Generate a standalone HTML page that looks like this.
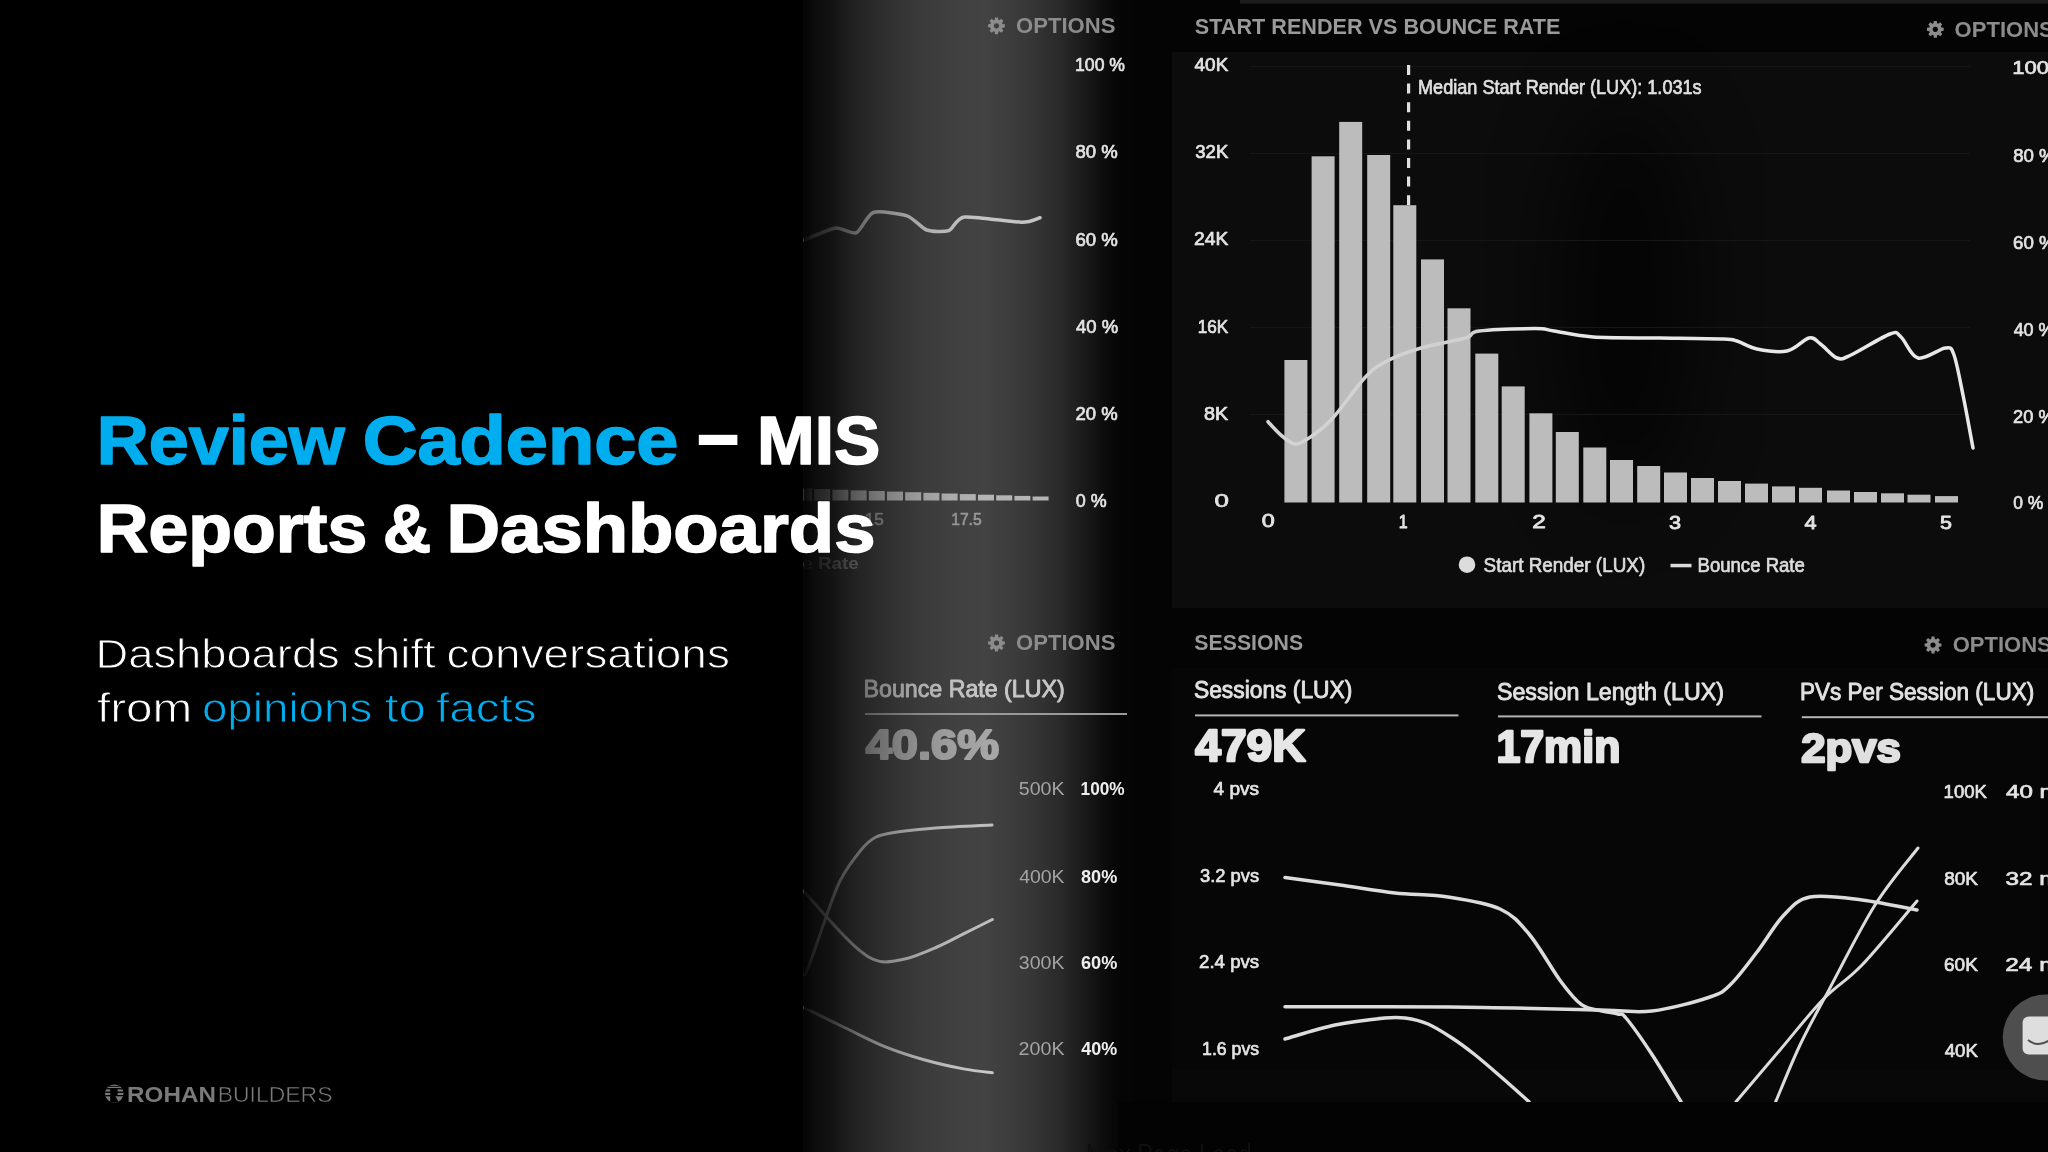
<!DOCTYPE html>
<html><head><meta charset="utf-8"><title>Review Cadence – MIS Reports &amp; Dashboards</title>
<style>
html,body{margin:0;padding:0;background:#000;}
body{width:2048px;height:1152px;overflow:hidden;position:relative;font-family:"Liberation Sans",sans-serif;}
svg{position:absolute;left:0;top:0;display:block;will-change:transform;}
.lb{font-family:"Liberation Sans",sans-serif;font-weight:700;}
.lr{font-family:"Liberation Sans",sans-serif;font-weight:400;}
</style></head>
<body>
<svg width="2048" height="1152" viewBox="0 0 2048 1152">
<defs>
  <linearGradient id="lp" x1="803.5" y1="0" x2="1133.5" y2="0" gradientUnits="userSpaceOnUse">
    <stop offset="0" stop-color="#424242"/>
    <stop offset="0.545" stop-color="#434343"/>
    <stop offset="0.676" stop-color="#383838"/>
    <stop offset="0.776" stop-color="#2a2a2a"/>
    <stop offset="0.873" stop-color="#151515"/>
    <stop offset="0.936" stop-color="#080808"/>
    <stop offset="0.97" stop-color="#050505"/>
    <stop offset="1" stop-color="#050505"/>
  </linearGradient>
  <linearGradient id="topv" x1="0" y1="0" x2="0" y2="60" gradientUnits="userSpaceOnUse">
    <stop offset="0" stop-color="#000" stop-opacity="0.35"/>
    <stop offset="1" stop-color="#000" stop-opacity="0"/>
  </linearGradient>
  <linearGradient id="fade" x1="798" y1="0" x2="1038" y2="0" gradientUnits="userSpaceOnUse">
    <stop offset="0.0000" stop-color="#000" stop-opacity="1"/>
    <stop offset="0.0221" stop-color="#000" stop-opacity="1"/>
    <stop offset="0.0233" stop-color="#000" stop-opacity="0.94"/>
    <stop offset="0.0417" stop-color="#000" stop-opacity="0.9"/>
    <stop offset="0.0583" stop-color="#000" stop-opacity="0.83"/>
    <stop offset="0.0917" stop-color="#000" stop-opacity="0.79"/>
    <stop offset="0.1333" stop-color="#000" stop-opacity="0.73"/>
    <stop offset="0.1750" stop-color="#000" stop-opacity="0.63"/>
    <stop offset="0.2375" stop-color="#000" stop-opacity="0.49"/>
    <stop offset="0.3208" stop-color="#000" stop-opacity="0.36"/>
    <stop offset="0.4250" stop-color="#000" stop-opacity="0.22"/>
    <stop offset="0.5083" stop-color="#000" stop-opacity="0.13"/>
    <stop offset="0.6333" stop-color="#000" stop-opacity="0.05"/>
    <stop offset="0.7792" stop-color="#000" stop-opacity="0"/>
    <stop offset="1.0000" stop-color="#000" stop-opacity="0"/>
  </linearGradient>
  <linearGradient id="bl" x1="1260" y1="0" x2="1980" y2="0" gradientUnits="userSpaceOnUse">
    <stop offset="0" stop-color="#d4d4d4"/>
    <stop offset="0.3" stop-color="#d0d0d0"/>
    <stop offset="0.33" stop-color="#e6e6e6"/>
    <stop offset="1" stop-color="#e8e8e8"/>
  </linearGradient>
  <filter id="soft" x="0" y="0" width="2048" height="1152" filterUnits="userSpaceOnUse"><feGaussianBlur stdDeviation="0.55"/></filter>
  <filter id="blur30" x="-50%" y="-50%" width="200%" height="200%"><feGaussianBlur stdDeviation="40"/></filter>
  <clipPath id="photoclip"><rect x="803.5" y="0" width="1245" height="1152"/></clipPath>
</defs>
<g clip-path="url(#photoclip)">
<rect x="0" y="0" width="2048" height="1152" fill="#000"/>
<rect x="1118" y="0" width="930" height="1152" fill="#040404"/>
<rect x="1172" y="52" width="876" height="556" fill="#0c0c0c"/>
<rect x="1172" y="668" width="876" height="434" fill="#060606"/>
<rect x="1172" y="1070" width="876" height="32" fill="#0a0a0a" opacity="0.6"/>
<ellipse cx="1625" cy="300" rx="70" ry="200" fill="#000" opacity="0.6" filter="url(#blur30)"/>
<rect x="1240" y="0" width="808" height="3.5" fill="#1c1c1c"/>
<rect x="803.5" y="0" width="330" height="1152" fill="url(#lp)"/>
<path d="M1002.52,23.94 L1004.88,24.36 L1004.88,27.24 L1002.52,27.66 L1002.07,28.74 L1003.44,30.71 L1001.41,32.74 L999.44,31.37 L998.36,31.82 L997.94,34.18 L995.06,34.18 L994.64,31.82 L993.56,31.37 L991.59,32.74 L989.56,30.71 L990.93,28.74 L990.48,27.66 L988.12,27.24 L988.12,24.36 L990.48,23.94 L990.93,22.86 L989.56,20.89 L991.59,18.86 L993.56,20.23 L994.64,19.78 L995.06,17.42 L997.94,17.42 L998.36,19.78 L999.44,20.23 L1001.41,18.86 L1003.44,20.89 L1002.07,22.86Z M999.10,25.80 A2.6,2.6 0 1,0 993.90,25.80 A2.6,2.6 0 1,0 999.10,25.80Z" fill="#8c8c8c" fill-rule="evenodd"/>
<text class="lb" x="1016.12" y="33.00" font-size="21.74" textLength="99.27" lengthAdjust="spacingAndGlyphs" fill="#8c8c8c" >OPTIONS</text>
<text class="lr" x="1075.08" y="70.80" font-size="18.84" textLength="49.84" lengthAdjust="spacingAndGlyphs" fill="#e4e4e4" stroke="#e4e4e4" stroke-width="0.7" stroke-linejoin="round" >100 %</text>
<text class="lr" x="1075.57" y="158.00" font-size="18.84" textLength="42.27" lengthAdjust="spacingAndGlyphs" fill="#e4e4e4" stroke="#e4e4e4" stroke-width="0.7" stroke-linejoin="round" >80 %</text>
<text class="lr" x="1075.47" y="245.60" font-size="18.84" textLength="42.37" lengthAdjust="spacingAndGlyphs" fill="#e4e4e4" stroke="#e4e4e4" stroke-width="0.7" stroke-linejoin="round" >60 %</text>
<text class="lr" x="1076.03" y="333.00" font-size="18.84" textLength="42.10" lengthAdjust="spacingAndGlyphs" fill="#e4e4e4" stroke="#e4e4e4" stroke-width="0.7" stroke-linejoin="round" >40 %</text>
<text class="lr" x="1075.48" y="419.80" font-size="18.84" textLength="42.16" lengthAdjust="spacingAndGlyphs" fill="#e4e4e4" stroke="#e4e4e4" stroke-width="0.7" stroke-linejoin="round" >20 %</text>
<text class="lr" x="1075.68" y="506.50" font-size="18.84" textLength="30.91" lengthAdjust="spacingAndGlyphs" fill="#e4e4e4" stroke="#e4e4e4" stroke-width="0.7" stroke-linejoin="round" >0 %</text>
<path d="M790.0,245.0 C792.1,244.2 802.7,240.5 808.0,238.5 C813.3,236.5 830.0,228.7 835.6,228.0 C841.2,227.3 852.0,234.5 856.4,232.7 C860.8,230.9 867.4,214.5 873.3,212.5 C879.2,210.5 900.8,213.8 907.0,215.8 C913.2,217.8 921.8,228.3 926.7,230.0 C931.6,231.7 944.4,232.2 948.8,230.7 C953.2,229.2 956.0,218.0 964.5,217.0 C973.0,216.0 1013.0,222.2 1021.8,222.3 C1030.6,222.4 1037.9,218.2 1040.0,217.7" fill="none" stroke="#c4c4c4" stroke-width="3.5" stroke-linecap="round" stroke-linejoin="round" />
<rect x="796.0" y="488.5" width="16" height="12.0" fill="#b4b4b4"/>
<rect x="814.2" y="489.1" width="16" height="11.4" fill="#b4b4b4"/>
<rect x="832.4" y="489.7" width="16" height="10.8" fill="#b4b4b4"/>
<rect x="850.6" y="490.4" width="16" height="10.1" fill="#b4b4b4"/>
<rect x="868.8" y="491.0" width="16" height="9.5" fill="#b4b4b4"/>
<rect x="887.0" y="491.6" width="16" height="8.9" fill="#b4b4b4"/>
<rect x="905.2" y="492.2" width="16" height="8.3" fill="#b4b4b4"/>
<rect x="923.4" y="492.8" width="16" height="7.7" fill="#b4b4b4"/>
<rect x="941.6" y="493.5" width="16" height="7.0" fill="#b4b4b4"/>
<rect x="959.8" y="494.1" width="16" height="6.4" fill="#b4b4b4"/>
<rect x="978.0" y="494.7" width="16" height="5.8" fill="#b4b4b4"/>
<rect x="996.2" y="495.3" width="16" height="5.2" fill="#b4b4b4"/>
<rect x="1014.4" y="495.9" width="16" height="4.6" fill="#b4b4b4"/>
<rect x="1032.6" y="496.5" width="16" height="4.0" fill="#b4b4b4"/>
<text class="lr" x="864.72" y="525.00" font-size="17.39" textLength="19.00" lengthAdjust="spacingAndGlyphs" fill="#9a9a9a" stroke="#9a9a9a" stroke-width="0.7" stroke-linejoin="round" >15</text>
<text class="lr" x="951.23" y="525.00" font-size="17.39" textLength="30.42" lengthAdjust="spacingAndGlyphs" fill="#9a9a9a" stroke="#9a9a9a" stroke-width="0.7" stroke-linejoin="round" >17.5</text>
<text class="lb" x="743.78" y="568.50" font-size="16.67" textLength="114.93" lengthAdjust="spacingAndGlyphs" fill="#9a9a9a" >Bounce Rate</text>
<path d="M1002.52,641.14 L1004.88,641.56 L1004.88,644.44 L1002.52,644.86 L1002.07,645.94 L1003.44,647.91 L1001.41,649.94 L999.44,648.57 L998.36,649.02 L997.94,651.38 L995.06,651.38 L994.64,649.02 L993.56,648.57 L991.59,649.94 L989.56,647.91 L990.93,645.94 L990.48,644.86 L988.12,644.44 L988.12,641.56 L990.48,641.14 L990.93,640.06 L989.56,638.09 L991.59,636.06 L993.56,637.43 L994.64,636.98 L995.06,634.62 L997.94,634.62 L998.36,636.98 L999.44,637.43 L1001.41,636.06 L1003.44,638.09 L1002.07,640.06Z M999.10,643.00 A2.6,2.6 0 1,0 993.90,643.00 A2.6,2.6 0 1,0 999.10,643.00Z" fill="#8c8c8c" fill-rule="evenodd"/>
<text class="lb" x="1016.12" y="649.50" font-size="21.74" textLength="99.27" lengthAdjust="spacingAndGlyphs" fill="#8c8c8c" >OPTIONS</text>
<text class="lr" x="863.54" y="697.00" font-size="23.19" textLength="201.18" lengthAdjust="spacingAndGlyphs" fill="#c8c8c8" stroke="#c8c8c8" stroke-width="0.9" stroke-linejoin="round" >Bounce Rate (LUX)</text>
<rect x="865" y="713" width="262" height="2" fill="#9a9a9a"/>
<text class="lb" x="865.69" y="759.00" font-size="42.03" textLength="133.30" lengthAdjust="spacingAndGlyphs" fill="#a6a6a6" stroke="#a6a6a6" stroke-width="2.2" stroke-linejoin="round" >40.6%</text>
<text class="lr" x="1018.82" y="795.30" font-size="18.84" textLength="45.79" lengthAdjust="spacingAndGlyphs" fill="#a4a4a4" >500K</text>
<text class="lb" x="1080.56" y="795.30" font-size="18.84" textLength="44.13" lengthAdjust="spacingAndGlyphs" fill="#eeeeee" >100%</text>
<text class="lr" x="1019.21" y="882.60" font-size="18.84" textLength="45.39" lengthAdjust="spacingAndGlyphs" fill="#a4a4a4" >400K</text>
<text class="lb" x="1081.06" y="882.60" font-size="18.84" textLength="36.22" lengthAdjust="spacingAndGlyphs" fill="#eeeeee" >80%</text>
<text class="lr" x="1018.82" y="969.30" font-size="18.84" textLength="45.79" lengthAdjust="spacingAndGlyphs" fill="#a4a4a4" >300K</text>
<text class="lb" x="1080.96" y="969.30" font-size="18.84" textLength="36.32" lengthAdjust="spacingAndGlyphs" fill="#eeeeee" >60%</text>
<text class="lr" x="1018.62" y="1054.50" font-size="18.84" textLength="45.99" lengthAdjust="spacingAndGlyphs" fill="#a4a4a4" >200K</text>
<text class="lb" x="1081.33" y="1054.50" font-size="18.84" textLength="35.95" lengthAdjust="spacingAndGlyphs" fill="#eeeeee" >40%</text>
<path d="M805.0,975.0 C806.0,972.5 807.8,968.7 811.0,960.0 C814.2,951.3 819.2,936.2 824.0,923.0 C828.8,909.8 833.8,893.2 840.0,881.0 C846.2,868.8 855.0,857.3 861.0,850.0 C867.0,842.7 870.0,840.0 876.0,837.0 C882.0,834.0 887.0,833.5 897.0,832.0 C907.0,830.5 920.2,829.2 936.0,828.0 C951.8,826.8 982.7,825.5 992.0,825.0" fill="none" stroke="#c0c0c0" stroke-width="3" stroke-linecap="round" stroke-linejoin="round" />
<path d="M800.0,888.0 C801.5,889.5 803.4,891.1 808.8,897.0 C814.2,902.9 824.1,914.6 832.4,923.4 C840.7,932.2 850.7,943.3 858.6,949.6 C866.5,955.9 871.7,959.9 879.6,961.4 C887.5,962.9 896.2,961.2 905.8,958.8 C915.4,956.4 927.4,951.1 937.0,947.0 C946.6,942.9 954.3,938.5 963.5,933.9 C972.7,929.3 987.5,921.9 992.3,919.5" fill="none" stroke="#c0c0c0" stroke-width="3" stroke-linecap="round" stroke-linejoin="round" />
<path d="M800.0,1006.0 C801.5,1006.7 801.2,1006.3 808.8,1010.0 C816.4,1013.7 832.8,1021.9 845.5,1028.0 C858.2,1034.1 871.7,1041.3 884.8,1046.6 C897.9,1051.9 910.9,1056.0 924.0,1059.7 C937.1,1063.4 952.1,1066.7 963.5,1068.9 C974.9,1071.1 987.5,1072.2 992.3,1072.8" fill="none" stroke="#c8c8c8" stroke-width="3" stroke-linecap="round" stroke-linejoin="round" />
<text class="lb" x="1194.85" y="34.40" font-size="21.74" textLength="365.58" lengthAdjust="spacingAndGlyphs" fill="#9a9a9a" >START RENDER VS BOUNCE RATE</text>
<path d="M1941.32,27.44 L1943.68,27.86 L1943.68,30.74 L1941.32,31.16 L1940.87,32.24 L1942.24,34.21 L1940.21,36.24 L1938.24,34.87 L1937.16,35.32 L1936.74,37.68 L1933.86,37.68 L1933.44,35.32 L1932.36,34.87 L1930.39,36.24 L1928.36,34.21 L1929.73,32.24 L1929.28,31.16 L1926.92,30.74 L1926.92,27.86 L1929.28,27.44 L1929.73,26.36 L1928.36,24.39 L1930.39,22.36 L1932.36,23.73 L1933.44,23.28 L1933.86,20.92 L1936.74,20.92 L1937.16,23.28 L1938.24,23.73 L1940.21,22.36 L1942.24,24.39 L1940.87,26.36Z M1937.90,29.30 A2.6,2.6 0 1,0 1932.70,29.30 A2.6,2.6 0 1,0 1937.90,29.30Z" fill="#8c8c8c" fill-rule="evenodd"/>
<text class="lb" x="1954.62" y="36.50" font-size="21.74" textLength="99.16" lengthAdjust="spacingAndGlyphs" fill="#8c8c8c" >OPTIONS</text>
<text class="lr" x="1194.62" y="70.80" font-size="18.12" textLength="33.65" lengthAdjust="spacingAndGlyphs" fill="#e4e4e4" stroke="#e4e4e4" stroke-width="0.7" stroke-linejoin="round" >40K</text>
<text class="lr" x="1195.26" y="158.00" font-size="18.12" textLength="33.01" lengthAdjust="spacingAndGlyphs" fill="#e4e4e4" stroke="#e4e4e4" stroke-width="0.7" stroke-linejoin="round" >32K</text>
<text class="lr" x="1194.04" y="245.30" font-size="18.12" textLength="34.24" lengthAdjust="spacingAndGlyphs" fill="#e4e4e4" stroke="#e4e4e4" stroke-width="0.7" stroke-linejoin="round" >24K</text>
<text class="lr" x="1197.71" y="332.80" font-size="18.12" textLength="30.53" lengthAdjust="spacingAndGlyphs" fill="#e4e4e4" stroke="#e4e4e4" stroke-width="0.7" stroke-linejoin="round" >16K</text>
<text class="lr" x="1204.11" y="420.30" font-size="18.12" textLength="24.15" lengthAdjust="spacingAndGlyphs" fill="#e4e4e4" stroke="#e4e4e4" stroke-width="0.7" stroke-linejoin="round" >8K</text>
<text class="lr" x="1214.57" y="507.20" font-size="18.12" textLength="14.37" lengthAdjust="spacingAndGlyphs" fill="#e4e4e4" stroke="#e4e4e4" stroke-width="0.7" stroke-linejoin="round" >0</text>
<text class="lr" x="2012.35" y="74.20" font-size="18.84" textLength="62.43" lengthAdjust="spacingAndGlyphs" fill="#e4e4e4" stroke="#e4e4e4" stroke-width="0.7" stroke-linejoin="round" >100 %</text>
<text class="lr" x="2013.16" y="161.50" font-size="18.84" textLength="42.48" lengthAdjust="spacingAndGlyphs" fill="#e4e4e4" stroke="#e4e4e4" stroke-width="0.7" stroke-linejoin="round" >80 %</text>
<text class="lr" x="2013.07" y="248.70" font-size="18.84" textLength="42.57" lengthAdjust="spacingAndGlyphs" fill="#e4e4e4" stroke="#e4e4e4" stroke-width="0.7" stroke-linejoin="round" >60 %</text>
<text class="lr" x="2013.64" y="335.50" font-size="18.84" textLength="40.98" lengthAdjust="spacingAndGlyphs" fill="#e4e4e4" stroke="#e4e4e4" stroke-width="0.7" stroke-linejoin="round" >40 %</text>
<text class="lr" x="2013.09" y="423.00" font-size="18.84" textLength="41.54" lengthAdjust="spacingAndGlyphs" fill="#e4e4e4" stroke="#e4e4e4" stroke-width="0.7" stroke-linejoin="round" >20 %</text>
<text class="lr" x="2013.30" y="509.00" font-size="18.84" textLength="30.08" lengthAdjust="spacingAndGlyphs" fill="#e4e4e4" stroke="#e4e4e4" stroke-width="0.7" stroke-linejoin="round" >0 %</text>
<rect x="1250" y="66" width="720" height="1" fill="#161616"/>
<rect x="1250" y="153" width="720" height="1" fill="#161616"/>
<rect x="1250" y="240" width="720" height="1" fill="#161616"/>
<rect x="1250" y="327" width="720" height="1" fill="#161616"/>
<rect x="1250" y="414" width="720" height="1" fill="#161616"/>
<rect x="1284.4" y="360.0" width="23" height="142.5" fill="#bcbcbc"/>
<rect x="1311.6" y="156.3" width="23" height="346.2" fill="#bcbcbc"/>
<rect x="1339.2" y="121.9" width="23" height="380.6" fill="#bcbcbc"/>
<rect x="1367.2" y="155.0" width="23" height="347.5" fill="#bcbcbc"/>
<rect x="1393.3" y="205.2" width="23" height="297.3" fill="#bcbcbc"/>
<rect x="1421.0" y="259.4" width="23" height="243.1" fill="#bcbcbc"/>
<rect x="1447.5" y="308.3" width="23" height="194.2" fill="#bcbcbc"/>
<rect x="1475.3" y="353.6" width="23" height="148.9" fill="#bcbcbc"/>
<rect x="1501.7" y="386.4" width="23" height="116.1" fill="#bcbcbc"/>
<rect x="1529.4" y="413.3" width="23" height="89.2" fill="#bcbcbc"/>
<rect x="1555.8" y="432.0" width="23" height="70.5" fill="#bcbcbc"/>
<rect x="1583.3" y="447.5" width="23" height="55.0" fill="#bcbcbc"/>
<rect x="1610.0" y="460.0" width="23" height="42.5" fill="#bcbcbc"/>
<rect x="1637.2" y="466.0" width="23" height="36.5" fill="#bcbcbc"/>
<rect x="1664.0" y="472.5" width="23" height="30.0" fill="#bcbcbc"/>
<rect x="1691.0" y="478.0" width="23" height="24.5" fill="#bcbcbc"/>
<rect x="1718.0" y="481.0" width="23" height="21.5" fill="#bcbcbc"/>
<rect x="1745.0" y="483.6" width="23" height="18.9" fill="#bcbcbc"/>
<rect x="1772.0" y="486.4" width="23" height="16.1" fill="#bcbcbc"/>
<rect x="1799.0" y="487.8" width="23" height="14.7" fill="#bcbcbc"/>
<rect x="1827.0" y="490.5" width="23" height="12.0" fill="#bcbcbc"/>
<rect x="1854.0" y="492.0" width="23" height="10.5" fill="#bcbcbc"/>
<rect x="1881.0" y="493.3" width="23" height="9.2" fill="#bcbcbc"/>
<rect x="1907.5" y="494.7" width="23" height="7.8" fill="#bcbcbc"/>
<rect x="1935.0" y="496.1" width="23" height="6.4" fill="#bcbcbc"/>
<line x1="1408.6" y1="65" x2="1408.6" y2="205" stroke="#e0e0e0" stroke-width="3.2" stroke-dasharray="10 8.6"/>
<text class="lr" x="1418.05" y="93.75" font-size="20.58" textLength="283.58" lengthAdjust="spacingAndGlyphs" fill="#e0e0e0" stroke="#e0e0e0" stroke-width="0.7" stroke-linejoin="round" >Median Start Render (LUX): 1.031s</text>
<path d="M1268.0,421.7 C1270.3,424.1 1277.3,432.3 1282.0,436.0 C1286.7,439.7 1291.0,444.0 1296.0,444.0 C1301.0,444.0 1306.0,440.2 1312.0,436.0 C1318.0,431.8 1323.1,428.8 1332.0,419.0 C1340.9,409.2 1356.2,386.8 1365.5,377.0 C1374.8,367.2 1378.8,365.3 1388.0,360.5 C1397.2,355.7 1408.1,351.8 1421.0,348.0 C1433.9,344.2 1455.8,340.8 1465.5,338.0 C1475.2,335.2 1467.4,332.6 1479.0,331.0 C1490.6,329.4 1522.5,328.6 1535.0,328.6 C1547.5,328.6 1544.3,329.6 1554.0,331.0 C1563.7,332.4 1575.3,335.8 1593.0,337.0 C1610.7,338.2 1638.3,337.7 1660.0,338.0 C1681.7,338.3 1710.2,338.5 1723.0,339.0 C1735.8,339.5 1731.3,339.3 1737.0,341.0 C1742.7,342.7 1748.7,347.3 1757.0,349.0 C1765.3,350.7 1778.3,352.8 1787.0,351.0 C1795.7,349.2 1803.4,339.2 1809.0,338.0 C1814.6,336.8 1815.8,340.7 1820.5,344.0 C1825.2,347.3 1831.9,356.2 1837.0,358.0 C1842.1,359.8 1842.2,359.0 1851.0,355.0 C1859.8,351.0 1881.7,337.0 1890.0,334.0 C1898.3,331.0 1896.3,333.0 1901.0,337.0 C1905.7,341.0 1910.6,356.2 1918.0,358.0 C1925.4,359.8 1939.5,348.5 1945.5,348.0 C1951.5,347.5 1951.1,347.2 1954.0,355.0 C1956.9,362.8 1959.8,379.5 1963.0,395.0 C1966.2,410.5 1971.3,439.2 1973.0,448.0" fill="none" stroke="url(#bl)" stroke-width="3.5" stroke-linecap="round" stroke-linejoin="round" />
<text class="lr" x="1261.87" y="527.20" font-size="18.12" textLength="12.98" lengthAdjust="spacingAndGlyphs" fill="#e4e4e4" stroke="#e4e4e4" stroke-width="0.8" stroke-linejoin="round" >0</text>
<text class="lr" x="1398.79" y="527.50" font-size="18.12" textLength="8.95" lengthAdjust="spacingAndGlyphs" fill="#e4e4e4" stroke="#e4e4e4" stroke-width="0.8" stroke-linejoin="round" >1</text>
<text class="lr" x="1532.38" y="528.00" font-size="18.12" textLength="13.57" lengthAdjust="spacingAndGlyphs" fill="#e4e4e4" stroke="#e4e4e4" stroke-width="0.8" stroke-linejoin="round" >2</text>
<text class="lr" x="1669.13" y="528.60" font-size="18.12" textLength="12.06" lengthAdjust="spacingAndGlyphs" fill="#e4e4e4" stroke="#e4e4e4" stroke-width="0.8" stroke-linejoin="round" >3</text>
<text class="lr" x="1804.56" y="528.60" font-size="18.12" textLength="12.11" lengthAdjust="spacingAndGlyphs" fill="#e4e4e4" stroke="#e4e4e4" stroke-width="0.8" stroke-linejoin="round" >4</text>
<text class="lr" x="1939.94" y="528.80" font-size="18.12" textLength="11.94" lengthAdjust="spacingAndGlyphs" fill="#e4e4e4" stroke="#e4e4e4" stroke-width="0.8" stroke-linejoin="round" >5</text>
<circle cx="1467" cy="564.7" r="8.3" fill="#dcdcdc"/>
<text class="lr" x="1483.55" y="571.50" font-size="20.29" textLength="161.66" lengthAdjust="spacingAndGlyphs" fill="#dcdcdc" stroke="#dcdcdc" stroke-width="0.7" stroke-linejoin="round" >Start Render (LUX)</text>
<rect x="1670.5" y="563.8" width="21" height="3.5" fill="#dcdcdc"/>
<text class="lr" x="1697.51" y="571.70" font-size="20.29" textLength="107.36" lengthAdjust="spacingAndGlyphs" fill="#dcdcdc" stroke="#dcdcdc" stroke-width="0.7" stroke-linejoin="round" >Bounce Rate</text>
<text class="lb" x="1194.36" y="650.00" font-size="21.74" textLength="108.75" lengthAdjust="spacingAndGlyphs" fill="#9a9a9a" >SESSIONS</text>
<path d="M1939.02,643.14 L1941.38,643.56 L1941.38,646.44 L1939.02,646.86 L1938.57,647.94 L1939.94,649.91 L1937.91,651.94 L1935.94,650.57 L1934.86,651.02 L1934.44,653.38 L1931.56,653.38 L1931.14,651.02 L1930.06,650.57 L1928.09,651.94 L1926.06,649.91 L1927.43,647.94 L1926.98,646.86 L1924.62,646.44 L1924.62,643.56 L1926.98,643.14 L1927.43,642.06 L1926.06,640.09 L1928.09,638.06 L1930.06,639.43 L1931.14,638.98 L1931.56,636.62 L1934.44,636.62 L1934.86,638.98 L1935.94,639.43 L1937.91,638.06 L1939.94,640.09 L1938.57,642.06Z M1935.60,645.00 A2.6,2.6 0 1,0 1930.40,645.00 A2.6,2.6 0 1,0 1935.60,645.00Z" fill="#8c8c8c" fill-rule="evenodd"/>
<text class="lb" x="1952.72" y="652.00" font-size="21.74" textLength="99.06" lengthAdjust="spacingAndGlyphs" fill="#8c8c8c" >OPTIONS</text>
<text class="lr" x="1193.97" y="698.40" font-size="23.77" textLength="158.44" lengthAdjust="spacingAndGlyphs" fill="#e2e2e2" stroke="#e2e2e2" stroke-width="0.9" stroke-linejoin="round" >Sessions (LUX)</text>
<rect x="1195" y="714.4" width="263.5" height="2" fill="#b4b4b4"/>
<text class="lr" x="1496.96" y="700.00" font-size="23.77" textLength="226.92" lengthAdjust="spacingAndGlyphs" fill="#e2e2e2" stroke="#e2e2e2" stroke-width="0.9" stroke-linejoin="round" >Session Length (LUX)</text>
<rect x="1498" y="715.4" width="263.5" height="2" fill="#b4b4b4"/>
<text class="lr" x="1800.00" y="700.30" font-size="23.77" textLength="234.22" lengthAdjust="spacingAndGlyphs" fill="#e2e2e2" stroke="#e2e2e2" stroke-width="0.9" stroke-linejoin="round" >PVs Per Session (LUX)</text>
<rect x="1801.8" y="716.2" width="250" height="2" fill="#b4b4b4"/>
<text class="lb" x="1195.31" y="761.00" font-size="43.48" textLength="110.18" lengthAdjust="spacingAndGlyphs" fill="#e6e6e6" stroke="#e6e6e6" stroke-width="2.4" stroke-linejoin="round" >479K</text>
<text class="lb" x="1496.43" y="762.30" font-size="43.48" textLength="123.95" lengthAdjust="spacingAndGlyphs" fill="#e6e6e6" stroke="#e6e6e6" stroke-width="2.4" stroke-linejoin="round" >17min</text>
<text class="lb" x="1801.27" y="762.30" font-size="40.58" textLength="99.44" lengthAdjust="spacingAndGlyphs" fill="#e0e0e0" stroke="#e0e0e0" stroke-width="2.4" stroke-linejoin="round" >2pvs</text>
<text class="lr" x="1213.62" y="795.30" font-size="18.84" textLength="45.55" lengthAdjust="spacingAndGlyphs" fill="#e4e4e4" stroke="#e4e4e4" stroke-width="0.7" stroke-linejoin="round" >4 pvs</text>
<text class="lr" x="1199.97" y="881.50" font-size="18.84" textLength="59.16" lengthAdjust="spacingAndGlyphs" fill="#e4e4e4" stroke="#e4e4e4" stroke-width="0.7" stroke-linejoin="round" >3.2 pvs</text>
<text class="lr" x="1199.07" y="968.00" font-size="18.84" textLength="60.07" lengthAdjust="spacingAndGlyphs" fill="#e4e4e4" stroke="#e4e4e4" stroke-width="0.7" stroke-linejoin="round" >2.4 pvs</text>
<text class="lr" x="1202.07" y="1054.50" font-size="18.84" textLength="57.03" lengthAdjust="spacingAndGlyphs" fill="#e4e4e4" stroke="#e4e4e4" stroke-width="0.7" stroke-linejoin="round" >1.6 pvs</text>
<text class="lr" x="1943.61" y="798.40" font-size="18.84" textLength="43.29" lengthAdjust="spacingAndGlyphs" fill="#e4e4e4" stroke="#e4e4e4" stroke-width="0.7" stroke-linejoin="round" >100K</text>
<text class="lr" x="2006.02" y="798.40" font-size="18.84" textLength="53.50" lengthAdjust="spacingAndGlyphs" fill="#e4e4e4" stroke="#e4e4e4" stroke-width="0.7" stroke-linejoin="round" >40 m</text>
<text class="lr" x="1944.15" y="885.00" font-size="18.84" textLength="33.73" lengthAdjust="spacingAndGlyphs" fill="#e4e4e4" stroke="#e4e4e4" stroke-width="0.7" stroke-linejoin="round" >80K</text>
<text class="lr" x="2005.53" y="885.00" font-size="18.84" textLength="54.01" lengthAdjust="spacingAndGlyphs" fill="#e4e4e4" stroke="#e4e4e4" stroke-width="0.7" stroke-linejoin="round" >32 m</text>
<text class="lr" x="1944.05" y="971.00" font-size="18.84" textLength="33.82" lengthAdjust="spacingAndGlyphs" fill="#e4e4e4" stroke="#e4e4e4" stroke-width="0.7" stroke-linejoin="round" >60K</text>
<text class="lr" x="2005.28" y="971.00" font-size="18.84" textLength="54.26" lengthAdjust="spacingAndGlyphs" fill="#e4e4e4" stroke="#e4e4e4" stroke-width="0.7" stroke-linejoin="round" >24 m</text>
<text class="lr" x="1944.63" y="1057.00" font-size="18.84" textLength="33.24" lengthAdjust="spacingAndGlyphs" fill="#e4e4e4" stroke="#e4e4e4" stroke-width="0.7" stroke-linejoin="round" >40K</text>
<path d="M1285.0,877.5 C1294.2,878.8 1321.7,882.4 1340.0,885.0 C1358.3,887.6 1377.0,891.0 1395.0,893.0 C1413.0,895.0 1430.5,894.3 1448.0,897.0 C1465.5,899.7 1486.5,902.8 1500.0,909.0 C1513.5,915.2 1518.9,922.0 1529.0,934.0 C1539.1,946.0 1551.8,969.2 1560.5,981.0 C1569.2,992.8 1574.6,999.7 1581.5,1004.7 C1588.4,1009.7 1595.9,1009.5 1602.0,1011.0 C1608.1,1012.5 1614.0,1012.8 1618.0,1014.0 C1622.0,1015.2 1620.3,1011.2 1626.0,1018.0 C1631.7,1024.8 1642.8,1040.5 1652.0,1054.5 C1661.2,1068.5 1676.2,1093.8 1681.0,1101.7" fill="none" stroke="#dcdcdc" stroke-width="3.5" stroke-linecap="round" stroke-linejoin="round" />
<path d="M1285.0,1006.8 C1312.5,1006.8 1397.5,1006.5 1450.0,1007.0 C1502.5,1007.5 1566.3,1009.3 1600.0,1010.0 C1633.7,1010.7 1633.7,1013.2 1652.0,1011.0 C1670.3,1008.8 1696.8,1001.5 1710.0,997.0 C1723.2,992.5 1723.2,991.5 1731.0,984.0 C1738.8,976.5 1748.2,963.4 1757.0,952.0 C1765.8,940.6 1774.7,924.7 1783.5,915.5 C1792.3,906.3 1796.9,899.6 1810.0,897.0 C1823.1,894.4 1844.2,897.8 1862.0,900.0 C1879.8,902.2 1907.8,908.3 1917.0,910.0" fill="none" stroke="#dcdcdc" stroke-width="3.5" stroke-linecap="round" stroke-linejoin="round" />
<path d="M1285.0,1039.0 C1293.3,1036.7 1318.3,1028.5 1335.0,1025.0 C1351.7,1021.5 1373.3,1019.2 1385.0,1018.0 C1396.7,1016.8 1397.8,1017.0 1405.0,1018.0 C1412.2,1019.0 1420.2,1020.7 1428.0,1024.0 C1435.8,1027.3 1444.3,1033.0 1452.0,1038.0 C1459.7,1043.0 1466.0,1047.7 1474.0,1054.0 C1482.0,1060.3 1490.8,1068.0 1500.0,1076.0 C1509.2,1084.0 1524.2,1097.4 1529.0,1101.7" fill="none" stroke="#dcdcdc" stroke-width="3.5" stroke-linecap="round" stroke-linejoin="round" />
<path d="M1736.0,1101.7 C1743.3,1093.1 1765.5,1067.0 1780.0,1050.0 C1794.5,1033.0 1809.3,1013.7 1823.0,999.5 C1836.7,985.3 1846.3,981.4 1862.0,965.0 C1877.7,948.6 1907.8,911.7 1917.0,901.0" fill="none" stroke="#dcdcdc" stroke-width="3" stroke-linecap="round" stroke-linejoin="round" />
<path d="M1775.7,1101.7 C1779.8,1092.2 1791.3,1063.3 1800.0,1045.0 C1808.7,1026.7 1815.5,1014.9 1828.0,991.6 C1840.5,968.3 1860.0,928.9 1875.0,905.0 C1890.0,881.1 1910.8,857.5 1918.0,848.0" fill="none" stroke="#dcdcdc" stroke-width="3" stroke-linecap="round" stroke-linejoin="round" />
<rect x="1118" y="1102" width="930" height="50" fill="#030303"/>
<text class="lr" x="1086.11" y="1166.00" font-size="31.88" textLength="165.43" lengthAdjust="spacingAndGlyphs" fill="#0f0f0f" >Max Page Load</text>
<circle cx="2045.7" cy="1037.5" r="43" fill="#4e4e4e"/>
<rect x="2022.6" y="1016.5" width="40" height="38" rx="6" fill="#dedede"/>
<path d="M2028,1040 Q2038,1048 2050,1040" fill="none" stroke="#4e4e4e" stroke-width="2"/>
<rect x="798" y="0" width="240" height="1152" fill="url(#fade)"/>
</g>
<text class="lb" x="96.82" y="464.00" font-size="69.00" textLength="247.91" lengthAdjust="spacingAndGlyphs" fill="#00aeef" stroke="#00aeef" stroke-width="1.6" stroke-linejoin="round" >Review</text>
<text class="lb" x="362.67" y="464.00" font-size="69.00" textLength="315.86" lengthAdjust="spacingAndGlyphs" fill="#00aeef" stroke="#00aeef" stroke-width="1.6" stroke-linejoin="round" >Cadence</text>
<rect x="698.8" y="434.8" width="38.6" height="10.2" fill="#fff"/>
<text class="lb" x="757.09" y="464.00" font-size="69.00" textLength="123.23" lengthAdjust="spacingAndGlyphs" fill="#fff" stroke="#fff" stroke-width="1.6" stroke-linejoin="round" >MIS</text>
<text class="lb" x="96.85" y="552.30" font-size="69.00" textLength="270.36" lengthAdjust="spacingAndGlyphs" fill="#fff" stroke="#fff" stroke-width="1.6" stroke-linejoin="round" >Reports</text>
<text class="lb" x="383.10" y="552.30" font-size="69.00" textLength="48.15" lengthAdjust="spacingAndGlyphs" fill="#fff" stroke="#fff" stroke-width="1.6" stroke-linejoin="round" >&amp;</text>
<text class="lb" x="446.58" y="552.30" font-size="69.00" textLength="428.85" lengthAdjust="spacingAndGlyphs" fill="#fff" stroke="#fff" stroke-width="1.6" stroke-linejoin="round" >Dashboards</text>
<text class="lr" x="95.53" y="668.00" font-size="40.00" textLength="244.21" lengthAdjust="spacingAndGlyphs" fill="#fff" stroke="#000" stroke-width="0.9">Dashboards</text>
<text class="lr" x="352.39" y="668.00" font-size="40.00" textLength="83.27" lengthAdjust="spacingAndGlyphs" fill="#fff" stroke="#000" stroke-width="0.9">shift</text>
<text class="lr" x="446.61" y="668.00" font-size="40.00" textLength="283.25" lengthAdjust="spacingAndGlyphs" fill="#fff" stroke="#000" stroke-width="0.9">conversations</text>
<text class="lr" x="96.93" y="721.80" font-size="40.00" textLength="95.42" lengthAdjust="spacingAndGlyphs" fill="#fff" stroke="#000" stroke-width="0.9">from</text>
<text class="lr" x="201.92" y="721.80" font-size="40.00" textLength="170.44" lengthAdjust="spacingAndGlyphs" fill="#00aeef" stroke="#000" stroke-width="0.9">opinions</text>
<text class="lr" x="384.71" y="721.80" font-size="40.00" textLength="41.16" lengthAdjust="spacingAndGlyphs" fill="#00aeef" stroke="#000" stroke-width="0.9">to</text>
<text class="lr" x="436.03" y="721.80" font-size="40.00" textLength="100.67" lengthAdjust="spacingAndGlyphs" fill="#00aeef" stroke="#000" stroke-width="0.9">facts</text>
<clipPath id="lc"><circle cx="114.3" cy="1093.6" r="9.2"/></clipPath>
<g clip-path="url(#lc)"><rect x="104" y="1084" width="21" height="20" fill="#7a7a7a"/><rect x="104" y="1085.9" width="21" height="0.9" fill="#000"/><rect x="104" y="1088.1" width="21" height="1.3" fill="#000"/><rect x="104" y="1091.5" width="21" height="1.4" fill="#000"/><rect x="104" y="1095" width="21" height="1.3" fill="#000"/><rect x="110.2" y="1088" width="7.4" height="8" fill="#000"/><polygon points="110.2,1096 115.2,1096 119.6,1103.5 110.2,1103.5" fill="#000"/><polygon points="123.2,1096 126,1096 126,1104 119.6,1103.5" fill="#000"/></g>
<text class="lb" x="127.13" y="1102.00" font-size="22.17" textLength="88.79" lengthAdjust="spacingAndGlyphs" fill="#7a7a7a" >ROHAN</text>
<text class="lr" x="217.66" y="1102.00" font-size="22.17" textLength="114.81" lengthAdjust="spacingAndGlyphs" fill="#7a7a7a" stroke="#000" stroke-width="0.5">BUILDERS</text>
</svg>
</body></html>
